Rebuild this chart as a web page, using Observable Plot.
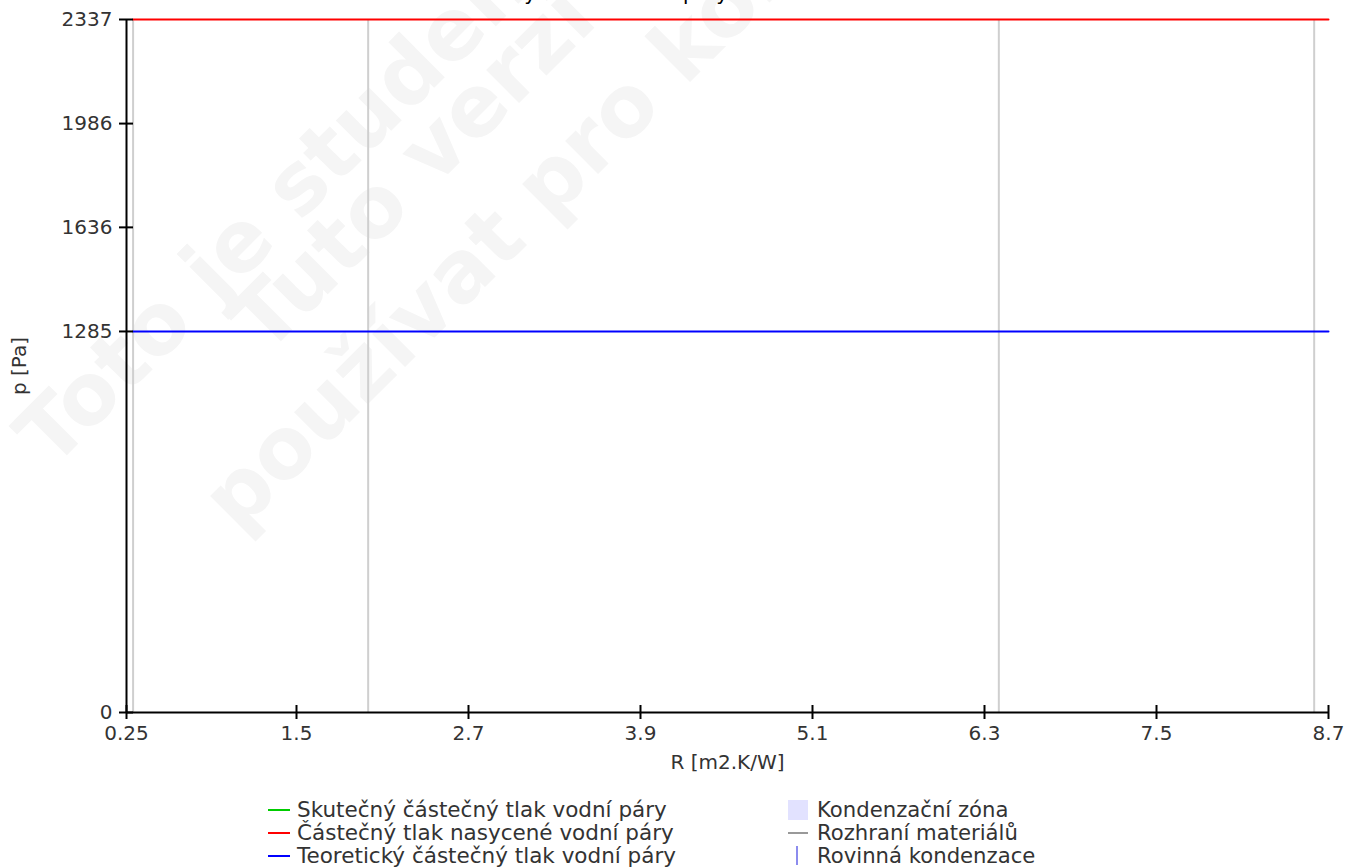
<!DOCTYPE html>
<html>
<head>
<meta charset="utf-8">
<script src="https://cdn.jsdelivr.net/npm/d3@7"></script>
<script src="https://cdn.jsdelivr.net/npm/@observablehq/plot@0.6"></script>
<style>
  html, body { margin: 0; padding: 0; background: #fff; }
  #wrap { position: relative; width: 1361px; height: 867px; overflow: hidden; font-family: "DejaVu Sans", sans-serif; }
  #wm { position: absolute; left: 0; top: 0; z-index: 0; }
  #chart { position: absolute; left: 0; top: 0; z-index: 1; }
  #chart svg { background: transparent !important; }
  #chart g[aria-label$="tick label"] { color: #333; }
  #title { position: absolute; left: 0; top: 0; width: 1361px; height: 7px; overflow: hidden; z-index: 2; }
  #title span { position: absolute; left: 370px; top: -17px; font-size: 20px; line-height: 20px; color: #000; white-space: nowrap; }
  .leg { position: absolute; line-height: 23px; color: #333; white-space: nowrap; z-index: 2; }
  .sw { position: absolute; z-index: 2; }
</style>
</head>
<body>
<div id="wrap">
  <svg id="wm" width="1361" height="867"></svg>
  <div id="title"><span>Průběh částečných tlaků vodní páry</span></div>
  <div id="chart"></div>
  <div id="legend"></div>
</div>
<script>
// ---- data ----
const xDomain = [0.314, 8.7];
const xTicks = [0.314, 1.5, 2.7, 3.9, 5.1, 6.3, 7.5, 8.7];
const xTickLabels = ["0.25", "1.5", "2.7", "3.9", "5.1", "6.3", "7.5", "8.7"];
const yDomain = [0, 2337];
const yTicks = [0, 1285, 1636, 1986, 2337];
const interfaces = [0.36, 2.0, 6.4, 8.6];
const profileR = [0.36, 2.0, 6.4, 8.6, 8.7];
const pSaturated = [2337, 2337, 2337, 2337, 2337];
const pTheoretical = [1285, 1285, 1285, 1285, 1285];
const xLabel = "R [m2.K/W]";
const yLabel = "p [Pa]";
const legendLeft = ["Skutečný částečný tlak vodní páry", "Částečný tlak nasycené vodní páry", "Teoretický částečný tlak vodní páry"];
const legendLeftColors = ["#00cc00", "#ff0000", "#0000ff"];
const legendRight = ["Kondenzační zóna", "Rozhraní materiálů", "Rovinná kondenzace"];
const watermarkLines = ["Toto je studentská verze programu", "Tuto verzi nelze", "používat pro komerční účely"];

const satData = profileR.map((r, i) => ({r, p: pSaturated[i]}));
const theoData = profileR.map((r, i) => ({r, p: pTheoretical[i]}));

const chart = Plot.plot({
  width: 1361,
  height: 790,
  marginLeft: 126,
  marginRight: 33,
  marginTop: 19,
  marginBottom: 78,
  style: {fontFamily: "DejaVu Sans, sans-serif", fontSize: "20px", color: "#000", background: "transparent", overflow: "visible"},
  x: {domain: xDomain, range: [126, 1328]},
  y: {domain: yDomain},
  marks: [
    Plot.ruleX(interfaces, {stroke: "#cfcfcf", strokeWidth: 2}),
    Plot.line(satData, {x: "r", y: "p", stroke: "#ff0000", strokeWidth: 2}),
    Plot.line(theoData, {x: "r", y: "p", stroke: "#0000ff", strokeWidth: 2}),
    Plot.ruleX([xDomain[0]], {stroke: "#000", strokeWidth: 2}),
    Plot.ruleY([yDomain[0]], {stroke: "#000", strokeWidth: 2}),
    Plot.axisY({ticks: yTicks, tickSize: 7, tickPadding: 7, strokeWidth: 2, tickFormat: d => String(d), label: null}),
    Plot.axisY({ticks: yTicks, tickSize: 7, dx: 7, strokeWidth: 2, tickFormat: () => "", label: null}),
    Plot.axisX({ticks: xTicks, tickSize: 7, tickPadding: 6, strokeWidth: 2, tickFormat: d => xTickLabels[xTicks.indexOf(d)], label: null}),
    Plot.axisX({ticks: xTicks, tickSize: 7, dy: -7, strokeWidth: 2, tickFormat: () => "", label: null}),
    Plot.text([xLabel], {frameAnchor: "bottom", dy: 50, lineAnchor: "middle", textAnchor: "middle", fill: "#333", fontSize: 20}),
    Plot.text([yLabel], {frameAnchor: "left", dx: -107, rotate: -90, lineAnchor: "middle", textAnchor: "middle", fill: "#333", fontSize: 20})
  ]
});
document.getElementById("chart").appendChild(chart);

// ---- watermark ----
const wm = d3.select("#wm");
const wmStarts = [[52, 470], [266, 356], [238, 534]];
watermarkLines.forEach((t, i) => {
  wm.append("text")
    .attr("x", wmStarts[i][0]).attr("y", wmStarts[i][1])
    .attr("transform", `rotate(-45 ${wmStarts[i][0]} ${wmStarts[i][1]})`)
    .attr("font-family", "DejaVu Sans, sans-serif")
    .attr("font-weight", "bold")
    .attr("font-size", 85)
    .attr("fill", "#f5f5f5")
    .text(t);
});

// ---- legend ----
const legend = document.getElementById("legend");
const rowY = [810, 833, 856];
legendLeft.forEach((t, i) => {
  const sw = document.createElement("div");
  sw.className = "sw";
  sw.style.cssText = `left:268px;top:${rowY[i] - 1}px;width:22px;height:2px;background:${legendLeftColors[i]};`;
  legend.appendChild(sw);
  const tx = document.createElement("div");
  tx.className = "leg";
  tx.style.cssText = `left:297px;top:${rowY[i] - 12}px;font-size:21.5px;`;
  tx.textContent = t;
  legend.appendChild(tx);
});
const swStyles = [
  `left:788px;top:${rowY[0] - 10}px;width:20px;height:20px;background:#e2e2ff;`,
  `left:788px;top:${rowY[1] - 1}px;width:20px;height:2px;background:#999;`,
  `left:796px;top:${rowY[2] - 10}px;width:2px;height:19px;background:#8c8cee;`
];
legendRight.forEach((t, i) => {
  const sw = document.createElement("div");
  sw.className = "sw";
  sw.style.cssText = swStyles[i];
  legend.appendChild(sw);
  const tx = document.createElement("div");
  tx.className = "leg";
  tx.style.cssText = `left:817px;top:${rowY[i] - 12}px;font-size:21.2px;`;
  tx.textContent = t;
  legend.appendChild(tx);
});
</script>
</body>
</html>
